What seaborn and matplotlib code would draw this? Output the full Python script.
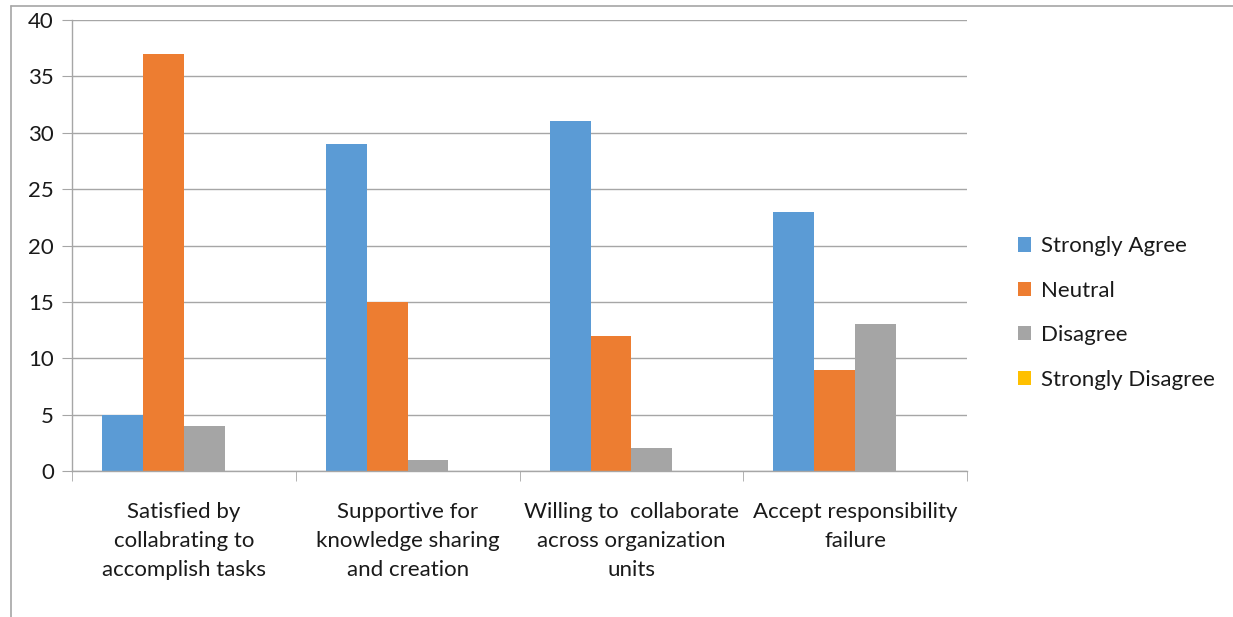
import pandas as pd
import numpy as np
import matplotlib.pyplot as plt
import seaborn as sns
from matplotlib.lines import Line2D

# datos
categorias = ["Satisfied by\ncollabrating to\naccomplish tasks",
              "Supportive for\nknowledge sharing\nand creation",
              "Willing to  collaborate\nacross organization\nunits",
              "Accept responsibility\nfailure"]
respuestas = ["Strongly Agree", "Neutral", "Disagree", "Strongly Disagree"]
strongly_agree = [5, 29, 31, 23]
neutral = [37, 15, 12, 9]
disagree = [4, 1, 2, 13]
strongly_disagree = [0, 0, 0, 0]
colores = ["#5B9BD5", "#ED7D31", "#A5A5A5", "#FFC000"]

valores = [strongly_agree, neutral, disagree, strongly_disagree]
filas = []
for r, vals in zip(respuestas, valores):
    for c, v in zip(categorias, vals):
        filas.append({"cat": c, "resp": r, "val": v})
df = pd.DataFrame(filas)

sns.set_style("white")
plt.rcParams['font.family'] = ['Lato', 'DejaVu Sans']
plt.rcParams['text.color'] = '#1a1a1a'

fig = plt.figure(figsize=(12.33, 6.17), dpi=100)
ax = fig.add_axes([72/1233, 1-471/617, (967-72)/1233, (471-20)/617])

sns.barplot(data=df, x="cat", y="val", hue="resp", hue_order=respuestas,
            palette=colores, width=0.73, saturation=1, linewidth=0, ax=ax, legend=True)

ax.set_ylim(0, 40)
ax.set_xlim(-0.5, 3.5)
ax.set_yticks(np.arange(0, 41, 5))
ax.yaxis.grid(True, color="#A6A6A6", linewidth=1)
ax.set_axisbelow(True)
ax.set_xlabel("")
ax.set_ylabel("")
for s in ["top", "right"]:
    ax.spines[s].set_visible(False)
for s in ["left", "bottom"]:
    ax.spines[s].set_color("#A6A6A6")
    ax.spines[s].set_linewidth(1)

ax.tick_params(axis="y", which="major", length=7, color="#A6A6A6", left=True,
               labelsize=16, pad=6, labelcolor="#1a1a1a")
ax.set_xticks(range(4))
ax.set_xticklabels(categorias, fontsize=16, linespacing=1.58, color="#1a1a1a")
ax.tick_params(axis="x", which="major", length=0, pad=22)
ax.set_xticks([0.5, 1.5, 2.5, 3.5, -0.5], minor=True)
ax.tick_params(axis="x", which="minor", length=7, color="#A6A6A6", bottom=True)

ax.legend(loc="center left", bbox_to_anchor=(1018/1233, 1-313/617),
          bbox_transform=fig.transFigure, frameon=False, borderpad=0, borderaxespad=0,
          fontsize=16, handlelength=0.6, handleheight=0.6, handletextpad=0.45,
          labelspacing=1.1)

# marco exterior
fig.add_artist(Line2D([11/1233, 11/1233], [0, 1-6/617], color="#A6A6A6", lw=1.2))
fig.add_artist(Line2D([11/1233, 1], [1-6/617, 1-6/617], color="#A6A6A6", lw=1.2))

fig.savefig("out.png", dpi=100)
